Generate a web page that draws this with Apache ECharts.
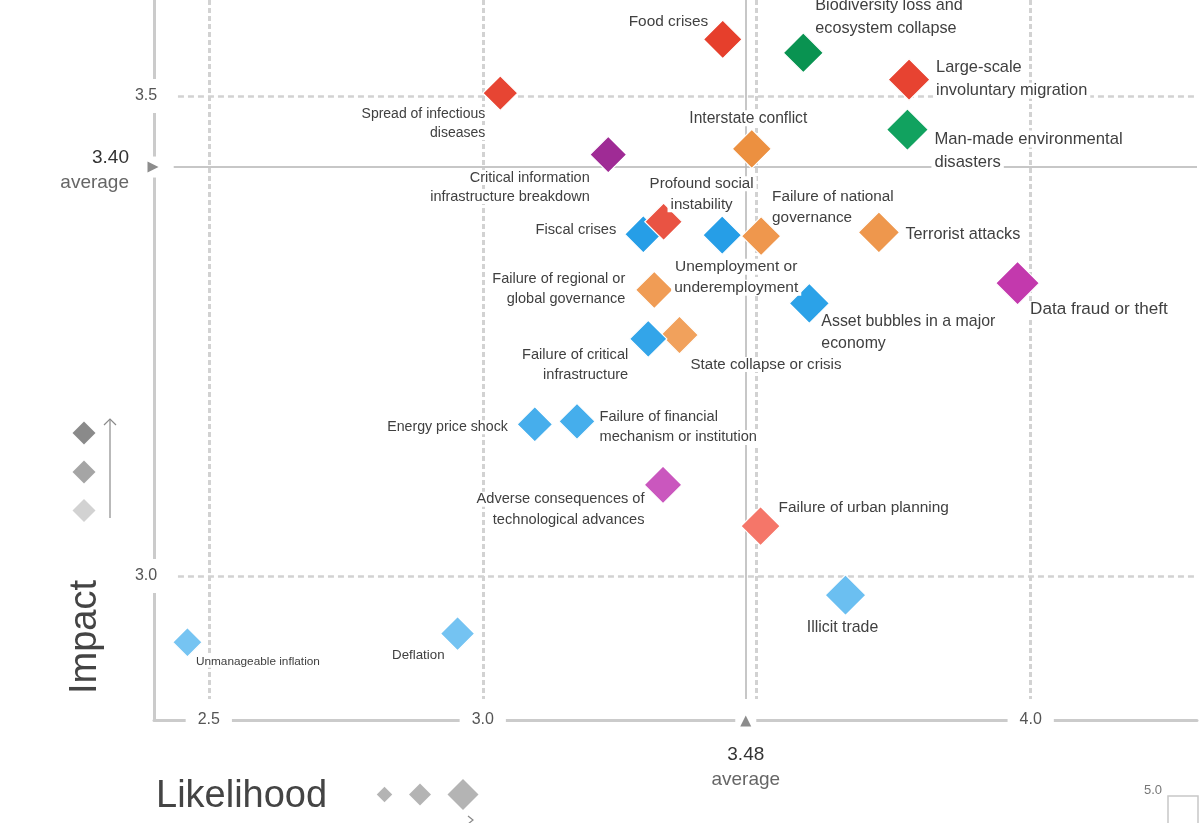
<!DOCTYPE html>
<html>
<head>
<meta charset="utf-8">
<script src="https://cdn.jsdelivr.net/npm/echarts@6/dist/echarts.min.js"></script>
<style>
  html, body { margin: 0; padding: 0; background: #fff; }
  #chart { width: 1200px; height: 823px; }
</style>
</head>
<body>
<div id="chart"></div>
<script>
// ------------------------------------------------------------------
// DATA
// ------------------------------------------------------------------
const riskNames = [
  'Food crises',
  'Biodiversity loss and\necosystem collapse',
  'Large-scale\ninvoluntary migration',
  'Man-made environmental\ndisasters',
  'Spread of infectious\ndiseases',
  'Critical information\ninfrastructure breakdown',
  'Interstate conflict',
  'Fiscal crises',
  'Profound social\ninstability',
  'Unemployment or\nunderemployment',
  'Failure of national\ngovernance',
  'Terrorist attacks',
  'Data fraud or theft',
  'Failure of regional or\nglobal governance',
  'Asset bubbles in a major\neconomy',
  'State collapse or crisis',
  'Failure of critical\ninfrastructure',
  'Energy price shock',
  'Failure of financial\nmechanism or institution',
  'Adverse consequences of\ntechnological advances',
  'Failure of urban planning',
  'Illicit trade',
  'Deflation',
  'Unmanageable inflation'
];
const riskCategory = [
  'Societal', 'Environmental', 'Societal', 'Environmental', 'Societal',
  'Technological', 'Geopolitical', 'Economic', 'Societal', 'Economic',
  'Geopolitical', 'Geopolitical', 'Technological', 'Geopolitical', 'Economic',
  'Geopolitical', 'Economic', 'Economic', 'Economic', 'Technological',
  'Societal', 'Economic', 'Economic', 'Economic'
];
const likelihood = [
  3.438, 3.585, 3.778, 3.775, 3.032,
  3.229, 3.491, 3.293, 3.330, 3.437,
  3.508, 3.723, 3.976, 3.313, 3.596,
  3.359, 3.302, 3.095, 3.172, 3.329,
  3.507, 3.662, 2.954, 2.461
];
const impact = [
  3.559, 3.545, 3.517, 3.465, 3.503,
  3.439, 3.445, 3.356, 3.369, 3.355,
  3.354, 3.358, 3.305, 3.298, 3.284,
  3.251, 3.247, 3.158, 3.161, 3.095,
  3.052, 2.980, 2.940, 2.931
];
const xTickLabels = [2.5, 3.0, 4.0];
const yTickLabels = [3.0, 3.5];
const xGridValues = [2.5, 3.0, 3.5, 4.0];
const yGridValues = [3.0, 3.5];
const likelihoodAverage = 3.48;
const likelihoodAverageLabel = '3.48';
const impactAverage = 3.426;          // where the average line is drawn in the picture
const impactAverageLabel = '3.40';    // text printed next to it

// ------------------------------------------------------------------
// STYLE / LAYOUT (kept apart from the data)
// ------------------------------------------------------------------
const FONT = "'Liberation Sans', Arial, Helvetica, sans-serif";
const X_MIN = 2.4, X_MAX = 4.3035, Y_MIN = 2.85, Y_MAX = 3.6;
const H_GRID_START = 2.4437, V_GRID_END = 2.872, H_AVG_START = 2.436;
const SIZE_MIN = 29.5, SIZE_MAX = 43.5;
const LPAD = 3;
const LABEL_DY = 1.5;

// label placement: [align, dx, dy, fontSize, lineHeight] relative to marker centre
const labelPlacement = [
  ['right', -14.5, -19, 15.4, 20],
  ['left', 12, -37.5, 16.2, 23],
  ['left', 27, -2, 16.4, 23],
  ['left', 27, 19.5, 16.6, 23],
  ['right', -15, 29, 14, 19],
  ['right', -18.5, 31, 14.5, 19],
  ['center', -3.5, -32, 15.6, 20],
  ['right', -27, -5.5, 14.7, 20],
  ['center', 38, -29, 15.1, 21],
  ['center', 14, 40.5, 15.5, 21],
  ['left', 11, -30.5, 15.3, 21],
  ['left', 26.5, 1, 16.3, 20],
  ['left', 12.5, 25, 17.1, 22],
  ['right', -29, -2, 14.5, 20],
  ['left', 12, 28, 15.9, 22],
  ['left', 11, 28, 15.1, 20],
  ['right', -20, 25, 14.6, 20],
  ['right', -27, 1.5, 14.2, 20],
  ['left', 22.5, 4.5, 14.6, 20],
  ['right', -18.5, 23.5, 14.6, 21],
  ['left', 18, -20, 15.4, 20],
  ['center', -3, 30.5, 15.9, 20],
  ['right', -13, 20.5, 13.3, 18],
  ['left', 8.5, 18, 11.8, 16]
];

// colour ramps per category: shade darkens with impact
const categoryRamps = {
  Economic:      ['#76c4f2', '#28a0e8', '#1e96e2'],
  Environmental: ['#6fd29d', '#20c07a', '#08904f'],
  Geopolitical:  ['#f7c08a', '#f09c55', '#e98630'],
  Societal:      ['#fb8478', '#ea5a4b', '#e63f2c'],
  Technological: ['#cf6fcb', '#c43aae', '#7e1e80']
};
const shadeStops = [2.93, 3.3, 3.56];

function hexToRgb(h) {
  return [parseInt(h.slice(1, 3), 16), parseInt(h.slice(3, 5), 16), parseInt(h.slice(5, 7), 16)];
}
function mix(a, b, t) {
  const A = hexToRgb(a), B = hexToRgb(b);
  const c = A.map((v, k) => Math.round(v + (B[k] - v) * t));
  return 'rgb(' + c.join(',') + ')';
}
function shade(cat, imp) {
  const r = categoryRamps[cat];
  if (imp <= shadeStops[0]) return r[0];
  if (imp >= shadeStops[2]) return r[2];
  if (imp <= shadeStops[1]) return mix(r[0], r[1], (imp - shadeStops[0]) / (shadeStops[1] - shadeStops[0]));
  return mix(r[1], r[2], (imp - shadeStops[1]) / (shadeStops[2] - shadeStops[1]));
}
function isAt(v, list) { return list.some(t => Math.abs(t - v) < 1e-6); }

const lMin = Math.min(...likelihood), lMax = Math.max(...likelihood);

const riskData = riskNames.map((name, i) => {
  const [align, dx, dy, fs, lh] = labelPlacement[i];
  const ox = align === 'left' ? dx - LPAD : (align === 'right' ? dx + LPAD : dx);
  return {
    name: name.replace(/\n/g, ' '),
    value: [likelihood[i], impact[i]],
    symbolSize: SIZE_MIN + (likelihood[i] - lMin) / (lMax - lMin) * (SIZE_MAX - SIZE_MIN),
    itemStyle: { color: shade(riskCategory[i], impact[i]) },
    label: {
      align: align, offset: [ox, dy + LABEL_DY],
      formatter: name.split('\n').map(l => '{w|' + l + '}').join('\n'),
      rich: {
        w: { fontSize: fs, lineHeight: lh, color: '#404040', fontFamily: FONT,
             backgroundColor: '#fff', padding: [0, LPAD] }
      }
    }
  };
});

const gridLineData = [
  ...xGridValues.map(v => [
    { coord: [v, Y_MAX], lineStyle: { color: '#d2d2d2', width: 3, type: [5, 3] } },
    { coord: [v, V_GRID_END] }
  ]),
  ...yGridValues.map(v => [
    { coord: [H_GRID_START, v], lineStyle: { color: '#d2d2d2', width: 2.5, type: [6, 4] } },
    { coord: [X_MAX, v] }
  ])
];

const avgLineData = [
  [{ coord: [likelihoodAverage, Y_MAX] }, { coord: [likelihoodAverage, V_GRID_END] }],
  [{ coord: [H_AVG_START, impactAverage] }, { coord: [X_MAX, impactAverage] }]
];

const avgRich = {
  v: { fontSize: 19, color: '#333', lineHeight: 25, fontFamily: FONT },
  a: { fontSize: 19, color: '#666', lineHeight: 25, fontFamily: FONT }
};

const avgPointData = [
  // white masks that open the axis lines around the average markers
  { coord: [X_MIN, impactAverage], symbol: 'rect', symbolSize: [9, 21], symbolOffset: [0, 0],
    itemStyle: { color: '#fff' }, label: { show: false } },
  { coord: [likelihoodAverage, Y_MIN], symbol: 'rect', symbolSize: [21, 9], symbolOffset: [0, 0],
    itemStyle: { color: '#fff' }, label: { show: false } },
  {
    coord: [X_MIN, impactAverage],
    symbol: 'path://M0,0L10,5L0,10Z',
    symbolSize: [11, 11],
    symbolOffset: [-1, 0],
    itemStyle: { color: '#8c8c8c' },
    label: {
      show: true, position: 'inside', align: 'right', verticalAlign: 'middle',
      offset: [-24, 3], textBorderWidth: 0,
      formatter: '{v|' + impactAverageLabel + '}\n{a|average}', rich: avgRich
    }
  },
  {
    coord: [likelihoodAverage, Y_MIN],
    symbol: 'triangle',
    symbolSize: [11, 11],
    symbolOffset: [0, 1],
    itemStyle: { color: '#8c8c8c' },
    label: {
      show: true, position: 'inside', align: 'center', verticalAlign: 'middle',
      offset: [0, 46], textBorderWidth: 0,
      formatter: '{v|' + likelihoodAverageLabel + '}\n{a|average}', rich: avgRich
    }
  }
];

function diamondPts(cx, cy, s) {
  const h = s / 2;
  return [[cx, cy - h], [cx + h, cy], [cx, cy + h], [cx - h, cy]];
}

const chart = echarts.init(document.getElementById('chart'), null, { renderer: 'canvas' });
chart.setOption({
  animation: false,
  backgroundColor: '#fff',
  textStyle: { fontFamily: FONT },
  grid: { left: 154, right: 0, top: 0, bottom: 103, containLabel: false },
  xAxis: {
    type: 'value', min: X_MIN, max: X_MAX, interval: 0.1,
    splitLine: { show: false }, axisTick: { show: false },
    axisLine: { show: true, onZero: false, lineStyle: { color: '#cbcbcb', width: 3 } },
    axisLabel: {
      margin: 0, verticalAlign: 'middle', align: 'center',
      formatter: v => isAt(v, xTickLabels) ? '{t|' + v.toFixed(1) + '}' : '',
      rich: { t: { fontSize: 16, color: '#555', backgroundColor: '#fff', padding: [3, 12], fontFamily: FONT } }
    }
  },
  yAxis: {
    type: 'value', min: Y_MIN, max: Y_MAX, interval: 0.05,
    splitLine: { show: false }, axisTick: { show: false },
    axisLine: { show: true, onZero: false, lineStyle: { color: '#cbcbcb', width: 3 } },
    axisLabel: {
      margin: 8, align: 'center', verticalAlign: 'middle',
      formatter: v => isAt(v, yTickLabels) ? '{t|' + v.toFixed(1) + '}' : '',
      rich: { t: { fontSize: 16, color: '#555', backgroundColor: '#fff', padding: [9, 4], fontFamily: FONT } }
    }
  },
  series: [
    {
      type: 'scatter', data: [], z: 1, silent: true,
      markLine: { z: 1, silent: true, symbol: ['none', 'none'], label: { show: false }, animation: false, data: gridLineData }
    },
    {
      type: 'scatter', data: [], z: 1, silent: true,
      markLine: {
        z: 1.5, silent: true, symbol: ['none', 'none'], label: { show: false }, animation: false,
        lineStyle: { color: '#b4b4b4', width: 1.5, type: 'solid' }, data: avgLineData
      },
      markPoint: { z: 2, silent: true, animation: false, data: avgPointData }
    },
    {
      type: 'scatter', z: 3, symbol: 'diamond', clip: false,
      emphasis: { disabled: true },
      itemStyle: { borderColor: '#fff', borderWidth: 1.2, opacity: 1 },
      label: {
        show: true, position: 'inside', verticalAlign: 'middle',
        color: '#404040', fontFamily: FONT, textBorderWidth: 0
      },
      data: riskData
    }
  ],
  graphic: [
    { type: 'text', x: 86, y: 637, rotation: Math.PI / 2,
      style: { text: 'Impact', fontSize: 38, fontFamily: FONT, fill: '#444', align: 'center', verticalAlign: 'middle' } },
    { type: 'text', x: 156, y: 797,
      style: { text: 'Likelihood', fontSize: 38, fontFamily: FONT, fill: '#444', align: 'left', verticalAlign: 'middle' } },
    { type: 'polygon', shape: { points: diamondPts(84, 433, 23) }, style: { fill: '#8a8a8a' } },
    { type: 'polygon', shape: { points: diamondPts(84, 472, 23) }, style: { fill: '#a5a5a5' } },
    { type: 'polygon', shape: { points: diamondPts(84, 510.5, 23) }, style: { fill: '#d2d2d2' } },
    { type: 'line', shape: { x1: 110, y1: 518, x2: 110, y2: 419 }, style: { stroke: '#8a8a8a', lineWidth: 1.2 } },
    { type: 'polyline', shape: { points: [[104, 425], [110, 419], [116, 425]] }, style: { stroke: '#8a8a8a', lineWidth: 1.2, fill: null } },
    { type: 'polygon', shape: { points: diamondPts(384.5, 794.5, 15.5) }, style: { fill: '#b4b4b4' } },
    { type: 'polygon', shape: { points: diamondPts(420, 794.5, 22) }, style: { fill: '#b4b4b4' } },
    { type: 'polygon', shape: { points: diamondPts(463, 794.5, 31) }, style: { fill: '#b4b4b4' } },
    { type: 'polyline', shape: { points: [[468, 816], [473, 820], [468, 824]] }, style: { stroke: '#888', lineWidth: 1.2, fill: null } },
    { type: 'text', x: 1153, y: 790,
      style: { text: '5.0', fontSize: 13, fontFamily: FONT, fill: '#777', align: 'center', verticalAlign: 'middle' } },
    { type: 'rect', shape: { x: 1168, y: 796, width: 30, height: 40 }, style: { fill: null, stroke: '#c8c8c8', lineWidth: 1.5 } }
  ]
});
</script>
</body>
</html>
